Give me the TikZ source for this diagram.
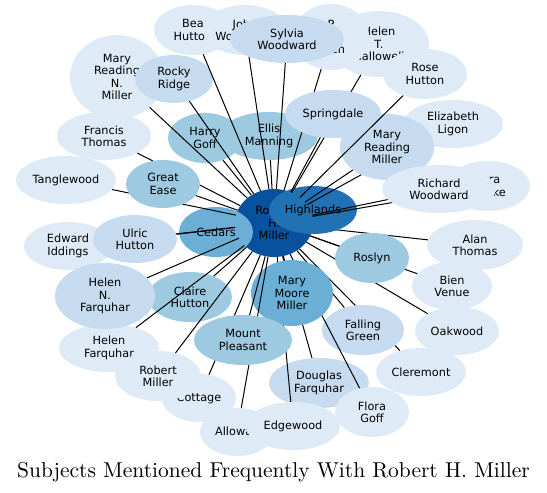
\documentclass[tikz,border=0pt]{standalone}
\usepackage{fontspec}
\newfontfamily\nodefont{DejaVu Sans}
\newfontfamily\titlefont{lmroman10-regular.otf}
\usetikzlibrary{shapes.geometric}
\definecolor{b0}{HTML}{08519C}
\definecolor{b1}{HTML}{2171B5}
\definecolor{b2}{HTML}{6BAED6}
\definecolor{b3}{HTML}{9ECAE1}
\definecolor{b4}{HTML}{C6DBEF}
\definecolor{b5}{HTML}{DEEBF7}
\begin{document}
\begin{tikzpicture}[x=1pt,y=-1pt,
  nd/.style={ellipse,inner sep=0pt,align=center,font={\nodefont\fontsize{11.3}{12.3}\selectfont}},
  sz/.style 2 args={minimum width=#1pt,minimum height=#2pt},
  ln/.style={line width=1pt}]
\useasboundingbox (0,0) rectangle (547,493);
% centre and the nodes that sit on it
\node[nd,sz={78}{68},fill=b0] (rhm) at (274,223) {Robert\\H.\\Miller};
\node[nd,sz={74}{50},fill=b2] (cedars) at (216,232) {Cedars};
\node[nd,sz={74}{50},fill=b3] (harry) at (205,138) {Harry\\Goff};
\draw[ln] (rhm) -- (harry);
\node[nd,sz={98}{48},fill=b3] (ellis) at (269,136) {Ellis\\Manning};
\draw[ln] (rhm) -- (ellis);
\node[nd,sz={84}{50},fill=b3] (claire) at (190,297) {Claire\\Hutton};
\draw[ln] (rhm) -- (claire);
\node[nd,sz={96}{50},fill=b5] (alan) at (475,245) {Alan\\Thomas};
\draw[ln] (rhm) -- (alan);
\node[nd,sz={88}{48},fill=b1] (highlands) at (313,210) {Highlands};
% left side
\node[nd,sz={100}{48},fill=b5] (tangle) at (66,180) {Tanglewood};
\draw[ln] (rhm) -- (tangle);
\node[nd,sz={88}{48},fill=b5] (edward) at (68,246) {Edward\\Iddings};
\draw[ln] (rhm) -- (edward);
\node[nd,sz={84}{48},fill=b4] (ulric) at (135,239) {Ulric\\Hutton};
\draw[ln] (rhm) -- (ulric);
\node[nd,sz={100}{48},fill=b5] (hf) at (109,348) {Helen\\Farquhar};
\draw[ln] (rhm) -- (hf);
\node[nd,sz={100}{66},fill=b4] (hnf) at (105,296) {Helen\\N.\\Farquhar};
\draw[ln] (rhm) -- (hnf);
\node[nd,sz={94}{48},fill=b5] (francis) at (104,136) {Francis\\Thomas};
\draw[ln] (rhm) -- (francis);
\node[nd,sz={74}{48},fill=b3] (great) at (163,184) {Great\\Ease};
\draw[ln] (rhm) -- (great);
\node[nd,sz={94}{84},fill=b5] (mrnm) at (117,77) {Mary\\Reading\\N.\\Miller};
\draw[ln] (rhm) -- (mrnm);
\node[nd,sz={78}{48},fill=b4] (rocky) at (174,79) {Rocky\\Ridge};
\draw[ln] (rhm) -- (rocky);
% top
\node[nd,sz={78}{50},fill=b5] (bea) at (193,30) {Bea\\Hutton};
\draw[ln] (rhm) -- (bea);
\node[nd,sz={84}{50},fill=b5] (john) at (245,30) {John\\Woodward};
\draw[ln] (rhm) -- (john);
\node[nd,sz={100}{66},fill=b5] (helent) at (379,44) {Helen\\T.\\Hallowell};
\draw[ln] (rhm) -- (helent);
\node[nd,sz={76}{66},fill=b5] (pt) at (331,37) {P\\T.\\Allen};
\draw[ln] (rhm) -- (pt);
\node[nd,sz={114}{48},fill=b4] (sylvia) at (287,39) {Sylvia\\Woodward};
\draw[ln] (rhm) -- (sylvia);
\node[nd,sz={96}{48},fill=b4] (spring) at (333,114) {Springdale};
\draw[ln] (rhm) -- (spring);
% right side
\node[nd,sz={100}{48},fill=b5] (ligon) at (453,124) {Elizabeth\\Ligon};
\draw[ln] (rhm) -- (ligon);
\node[nd,sz={94}{66},fill=b4] (mrm) at (387,147) {Mary\\Reading\\Miller};
\draw[ln] (rhm) -- (mrm);
\node[nd,sz={84}{50},fill=b5] (rose) at (425,74) {Rose\\Hutton};
\draw[ln] (rhm) -- (rose);
\node[nd,sz={84}{50},fill=b5] (ezra) at (488,186) {Ezra\\Clarke};
\draw[ln] (rhm) -- (ezra);
\node[nd,sz={114}{48},fill=b5] (richard) at (439,189) {Richard\\Woodward};
\draw[ln] (rhm) -- (richard);
\node[nd,sz={80}{48},fill=b5] (bien) at (452,286) {Bien\\Venue};
\draw[ln] (rhm) -- (bien);
\node[nd,sz={84}{48},fill=b5] (oak) at (457,331) {Oakwood};
\draw[ln] (rhm) -- (oak);
\node[nd,sz={74}{50},fill=b3] (roslyn) at (372,258) {Roslyn};
\draw[ln] (rhm) -- (roslyn);
% bottom
\node[nd,sz={90}{48},fill=b5] (cler) at (421,372) {Cleremont};
\draw[ln] (rhm) -- (cler);
\node[nd,sz={82}{50},fill=b4] (falling) at (363,330) {Falling\\Green};
\draw[ln] (rhm) -- (falling);
\node[nd,sz={100}{50},fill=b4] (douglas) at (319,383) {Douglas\\Farquhar};
\draw[ln] (rhm) -- (douglas);
\node[nd,sz={74}{50},fill=b5] (flora) at (372,412) {Flora\\Goff};
\draw[ln] (rhm) -- (flora);
\node[nd,sz={74}{48},fill=b5] (cottage) at (199,398) {Cottage};
\draw[ln] (rhm) -- (cottage);
\node[nd,sz={86}{50},fill=b5] (robm) at (158,376) {Robert\\Miller};
\draw[ln] (rhm) -- (robm);
\node[nd,sz={74}{48},fill=b5] (alloway) at (237,432) {Alloway};
\node[nd,sz={94}{48},fill=b5] (edge) at (293,426) {Edgewood};
\draw[ln] (rhm) -- (edge);
\node[nd,sz={82}{66},fill=b2] (mmm) at (292,293) {Mary\\Moore\\Miller};
\draw[ln] (rhm) -- (mmm);
\draw[ln] (rhm) -- (alloway);
\node[nd,sz={98}{50},fill=b3] (mount) at (243,340) {Mount\\Pleasant};
\draw[ln] (rhm) -- (mount);
\node[anchor=base,font={\titlefont\fontsize{21.5}{26}\selectfont}] (title) at (273.5,477) {Subjects Mentioned Frequently With Robert H. Miller};
\end{tikzpicture}
\end{document}
